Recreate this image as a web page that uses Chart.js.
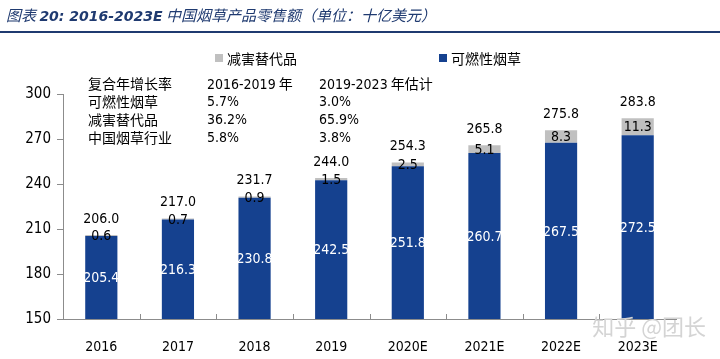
<!DOCTYPE html>
<html>
<head>
<meta charset="utf-8">
<script src="https://cdn.jsdelivr.net/npm/chart.js@4"></script>
<style>
  body { margin: 0; background: #fff; }
  #wrap { position: relative; width: 720px; height: 359px; overflow: hidden; }
  #myChart { position: absolute; left: 0; top: 0; }
  .txt { position: absolute; white-space: nowrap; font-family: "Noto Sans CJK SC", sans-serif; font-size: 14px; color: #000; line-height: 18px; }
  .num { font-family: "DejaVu Sans Condensed", "DejaVu Sans", sans-serif; }
  #titulo { left: 6px; top: 6px; font-size: 15px; font-style: italic; color: #1f3a70; }
  #titulo b { font-family: "DejaVu Sans", sans-serif; font-size: 14px; }
  #linha { position: absolute; left: 0; top: 31px; width: 720px; height: 2px; background: #1f3a70; }
  .caixa { position: absolute; width: 8px; height: 8px; }
  #marca { right: 14px; top: 312px; font-size: 22px; color: #d4d4d4; line-height: 26px; }
</style>
</head>
<body>
<div id="wrap">
  <canvas id="myChart" width="720" height="359"></canvas>
  <div class="txt" id="titulo">图表 <b>20:  2016-2023E</b> 中国烟草产品零售额（单位：十亿美元）</div>
  <div id="linha"></div>

  <!-- legenda -->
  <div class="caixa" style="left:215px; top:54px; background:#c0c0c0;"></div>
  <div class="txt" style="left:227px; top:49px;">减害替代品</div>
  <div class="caixa" style="left:439px; top:54px; background:#15418f;"></div>
  <div class="txt" style="left:451px; top:49px;">可燃性烟草</div>

  <!-- tabela de crescimento -->
  <div class="txt" style="left:88px; top:74px;">复合年增长率</div>
  <div class="txt" style="left:207px; top:74px;"><span class="num">2016-2019</span> 年</div>
  <div class="txt" style="left:319px; top:74px;"><span class="num">2019-2023</span> 年估计</div>
  <div class="txt" style="left:88px; top:92px;">可燃性烟草</div>
  <div class="txt num" style="left:207px; top:92px;">5.7%</div>
  <div class="txt num" style="left:319px; top:92px;">3.0%</div>
  <div class="txt" style="left:88px; top:110px;">减害替代品</div>
  <div class="txt num" style="left:207px; top:110px;">36.2%</div>
  <div class="txt num" style="left:319px; top:110px;">65.9%</div>
  <div class="txt" style="left:88px; top:128px;">中国烟草行业</div>
  <div class="txt num" style="left:207px; top:128px;">5.8%</div>
  <div class="txt num" style="left:319px; top:128px;">3.8%</div>

  <div class="txt" id="marca">知乎 @团长</div>
</div>

<script>
// Dados
const anos = ['2016', '2017', '2018', '2019', '2020E', '2021E', '2022E', '2023E'];
const combustivel = [205.4, 216.3, 230.8, 242.5, 251.8, 260.7, 267.5, 272.5]; // 可燃性烟草
const alternativo = [0.6, 0.7, 0.9, 1.5, 2.5, 5.1, 8.3, 11.3]; // 减害替代品
const totais = ['206.0', '217.0', '231.7', '244.0', '254.3', '265.8', '275.8', '283.8'];
const ticksY = [150, 180, 210, 240, 270, 300];

const fonteNum = '"DejaVu Sans Condensed", "DejaVu Sans", sans-serif';

// Plugin para desenhar os rótulos e as marcas internas do eixo x
const rotulos = {
    id: 'rotulos',
    afterDatasetsDraw(chart) {
        const ctx = chart.ctx;
        const area = chart.chartArea;
        const azul = chart.getDatasetMeta(0);
        const cinza = chart.getDatasetMeta(1);
        ctx.save();
        ctx.font = '14px ' + fonteNum;
        ctx.textAlign = 'center';
        ctx.textBaseline = 'middle';
        azul.data.forEach((el, i) => {
            const base = Math.min(el.base, area.bottom);
            ctx.fillStyle = '#ffffff';
            ctx.fillText(combustivel[i].toFixed(1), el.x, (el.y + base) / 2 + 1);
        });
        cinza.data.forEach((el, i) => {
            ctx.fillStyle = '#000000';
            ctx.fillText(alternativo[i].toFixed(1), el.x, (el.y + el.base) / 2 + 1);
            ctx.fillText(totais[i], el.x, el.y - 16);
        });
        // marcas do eixo x (para dentro)
        const x = chart.scales.x;
        ctx.strokeStyle = '#8c8c8c';
        ctx.lineWidth = 1;
        for (let i = 0; i < anos.length - 1; i++) {
            const px = Math.round((x.getPixelForValue(i) + x.getPixelForValue(i + 1)) / 2) + 0.5;
            ctx.beginPath();
            ctx.moveTo(px, area.bottom);
            ctx.lineTo(px, area.bottom - 5);
            ctx.stroke();
        }
        ctx.restore();
    }
};

const ctx = document.getElementById('myChart').getContext('2d');
const myChart = new Chart(ctx, {
    type: 'bar',
    data: {
        labels: anos,
        datasets: [{
            label: '可燃性烟草',
            data: combustivel,
            backgroundColor: '#15418f',
            borderWidth: 0
        }, {
            label: '减害替代品',
            data: alternativo,
            backgroundColor: '#c0c0c0',
            borderWidth: 0
        }]
    },
    options: {
        responsive: false,
        animation: false,
        events: [],
        layout: {
            padding: { top: 94, right: 44, bottom: 0, left: 0 }
        },
        plugins: {
            legend: { display: false },
            title: { display: false },
            tooltip: { enabled: false }
        },
        datasets: {
            bar: {
                categoryPercentage: 1.0,
                barPercentage: 0.42
            }
        },
        scales: {
            x: {
                stacked: true,
                grid: { display: false },
                border: { color: '#8c8c8c', width: 1 },
                ticks: {
                    color: '#000',
                    padding: 12,
                    maxRotation: 0,
                    font: { family: fonteNum, size: 14 }
                },
                afterFit: (scale) => { scale.height = 40; }
            },
            y: {
                stacked: true,
                min: 150,
                max: 300,
                afterBuildTicks: (scale) => {
                    scale.ticks = ticksY.map(v => ({ value: v }));
                },
                grid: {
                    drawOnChartArea: false,
                    color: '#8c8c8c',
                    tickLength: 6
                },
                border: { color: '#8c8c8c', width: 1 },
                ticks: {
                    color: '#000',
                    padding: 6,
                    font: { family: fonteNum, size: 15 }
                },
                afterFit: (scale) => { scale.width = 63; }
            }
        }
    },
    plugins: [rotulos]
});
</script>
</body>
</html>
